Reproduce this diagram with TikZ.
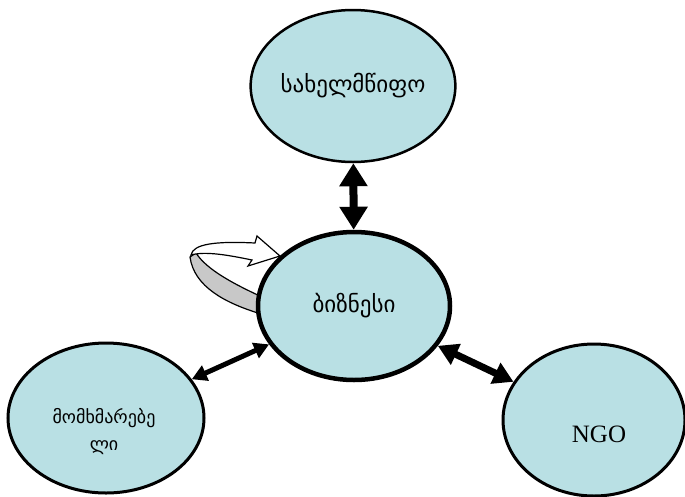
\documentclass[tikz,border=0pt]{standalone}
\usepackage{fontspec}
\setmainfont{Liberation Serif}
\newfontfamily\geofont[Script=Georgian]{DejaVu Sans}
\usetikzlibrary{shapes.geometric,arrows.meta}
\definecolor{paleblue}{RGB}{185,224,228}
\definecolor{bandgray}{RGB}{200,200,200}

\begin{document}
\begin{tikzpicture}[x=1pt,y=-1pt,
		actor/.style={ellipse,draw,fill=paleblue,line width=2.5pt,inner sep=0pt},
		geo/.style={font=\geofont\fontsize{23}{28}\selectfont},
		link/.style={line width=#1}
	]
	\useasboundingbox (0,0) rectangle (685,496);
	% turning arrow beside the business
	\draw[fill=bandgray,line width=1.2pt] (190,257) .. controls (194,287) and (226,303) .. (258,313)
		-- (262,297) .. controls (234,284) and (207,270) .. (196,253) -- cycle;
	\draw[fill=white,line width=1.2pt] (191,255) .. controls (193,244) and (215,241) .. (255,243)
		-- (257,236) -- (280,256) -- (248,266) -- (252,260)
		.. controls (228,255) and (205,251) .. (191,255) -- cycle;
	% the four actors
	\node[actor,minimum width=190pt,minimum height=152pt,geo] (state) at (353,86) {სახელმწიფო};
	\node[actor,line width=4.5pt,minimum width=192pt,minimum height=148pt,geo] (biz) at (354,306) {ბიზნესი};
	\node[actor,line width=3pt,minimum width=196pt,minimum height=150pt] (user) at (106,418) {};
	\node[actor,line width=3pt,minimum width=182pt,minimum height=152pt] (ngo) at (594,420) {};
	\node[font=\geofont\fontsize{18}{27}\selectfont,align=center] (usertext) at (104,432) {მომხმარებე\\ლი};
	\node[font=\fontsize{25}{30}\selectfont] (ngotext) at (599,434) {NGO};
	% links
	\draw[link=8pt,{Triangle[length=23pt,width=27pt]}-{Triangle[length=23pt,width=27pt]}] (state) -- (biz);
	\draw[link=5pt,{Triangle[length=15pt,width=16pt]}-{Triangle[length=15pt,width=16pt]}] (user) -- (biz);
	\draw[link=7pt,{Triangle[length=20pt,width=22pt]}-{Triangle[length=20pt,width=22pt]}] (biz) -- (ngo);
\end{tikzpicture}
\end{document}
